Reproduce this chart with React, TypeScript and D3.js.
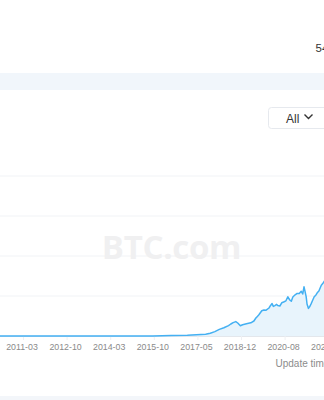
import React from "react";
import * as d3 from "d3";

// Tick labels on the category-like date axis (evenly spaced)
const tickLabels = ["2011-03", "2012-10", "2014-03", "2015-10", "2017-05", "2018-12", "2020-08", "2022-03"];

// Difficulty series (T)
const dates = [
  "2009-01-09", "2010-07-15", "2011-03-15", "2012-10-15", "2014-03-15", "2015-10-15", "2016-06-15",
  "2017-01-15", "2017-05-15", "2017-09-15", "2017-11-15", "2018-01-15", "2018-03-15", "2018-05-15",
  "2018-07-15", "2018-08-15", "2018-09-15", "2018-10-20", "2018-11-15", "2018-12-20", "2019-01-20",
  "2019-03-15", "2019-05-15", "2019-06-27", "2019-07-25", "2019-08-15", "2019-09-05", "2019-10-15",
  "2019-11-15", "2019-12-15", "2020-01-24", "2020-02-15", "2020-03-07", "2020-03-25", "2020-04-15",
  "2020-05-10", "2020-05-25", "2020-06-24", "2020-07-20", "2020-08-15", "2020-09-15", "2020-10-10",
  "2020-11-05", "2020-11-25", "2020-12-15", "2021-01-15", "2021-02-10", "2021-03-10", "2021-04-05",
  "2021-04-25", "2021-05-12", "2021-05-25", "2021-06-10", "2021-06-21", "2021-07-10", "2021-07-25",
  "2021-08-15", "2021-09-05", "2021-09-24", "2021-10-15", "2021-11-03", "2021-11-25", "2021-12-27",
  "2022-01-15", "2022-02-05", "2022-03-15", "2022-04-15",
];
const difficultyT = [
  0, 0, 0, 0.003, 0.005, 0.06, 0.2,
  0.34, 0.6, 0.9, 1.4, 2.2, 3.3, 4.1,
  5.2, 6.0, 6.7, 7.2, 6.5, 5.1, 5.6,
  6.1, 6.6, 7.5, 9.0, 9.8, 10.6, 12.6,
  13.0, 12.9, 14.0, 15.3, 16.2, 14.8, 15.2,
  15.8, 15.2, 15.0, 16.6, 17.0, 17.6, 19.6,
  18.0, 17.4, 19.5, 20.6, 21.3, 21.3, 22.4,
  21.0, 24.6, 22.4, 19.6, 16.0, 13.8, 14.6,
  16.2, 18.0, 19.6, 20.4, 21.6, 22.5, 25.4,
  26.2, 27.4, 28.2, 29.4,
];

const yTicks = [0, 20, 40, 60, 80];

const W = 324;
const H = 400;
const FONT = "'Liberation Sans', Arial, Helvetica, sans-serif";

export default function App() {
  const parse = d3.timeParse("%Y-%m");
  const parseDay = d3.timeParse("%Y-%m-%d");
  const tickDates = tickLabels.map((t) => {
    const d = parse(t) as Date;
    return new Date(d.getFullYear(), d.getMonth(), 15);
  });

  const xStart = 22;
  const xStep = 43.6;
  const x = d3
    .scaleTime()
    .domain(tickDates)
    .range(tickDates.map((_, i) => xStart + i * xStep));

  const y = d3.scaleLinear().domain([0, 80]).range([336, 176]);

  const data = dates.map((d, i) => ({ date: parseDay(d) as Date, v: difficultyT[i] }));

  const line = d3
    .line<{ date: Date; v: number }>()
    .x((d) => x(d.date))
    .y((d) => y(d.v));
  const area = d3
    .area<{ date: Date; v: number }>()
    .x((d) => x(d.date))
    .y0(y(0))
    .y1((d) => y(d.v));

  return (
    <div
      style={{
        position: "absolute",
        left: 0,
        top: 0,
        width: W,
        height: H,
        overflow: "hidden",
        background: "#fff",
      }}
    >
      <svg width={W} height={H} style={{ display: "block", fontFamily: FONT }}>
        <rect x={0} y={0} width={W} height={H} fill="#fff" />
        {/* header value (cut off) */}
        <text x={315.5} y={52} fontSize={11.5} fill="#333">
          54
        </text>
        {/* light band */}
        <rect x={0} y={73} width={W} height={17} fill="#f1f6fb" />
        {/* All dropdown */}
        <rect x={268.5} y={107.5} width={80} height={21} rx={3} fill="#fff" stroke="#e6e9ee" />
        <text x={286} y={122.5} fontSize={12} fill="#333">
          All
        </text>
        <path d="M304.5,114.5 L308.5,118.5 L312.5,114.5" fill="none" stroke="#333" strokeWidth={1.4} />

        {/* gridlines */}
        {yTicks.slice(1).map((t) => (
          <line key={t} x1={0} x2={W} y1={y(t)} y2={y(t)} stroke="#f1f3f6" strokeWidth={1} />
        ))}
        {/* watermark */}
        <text
          x={171.5}
          y={258.5}
          textAnchor="middle"
          fontSize={33}
          fontWeight={700}
          fill="#f0f0f1"
          fontFamily="'Open Sans', 'Liberation Sans', Arial, sans-serif"
          letterSpacing={-0.3}
        >
          BTC.com
        </text>
        {/* axis */}
        <line x1={0} x2={W} y1={y(0) + 0.5} y2={y(0) + 0.5} stroke="#e3e7ec" />
        {tickDates.map((d, i) => (
          <line key={i} x1={x(d) + 1.5} x2={x(d) + 1.5} y1={y(0)} y2={y(0) + 4} stroke="#eef0f3" />
        ))}
        {/* series */}
        <path d={area(data) || ""} fill="#e8f4fc" />
        <path d={line(data) || ""} fill="none" stroke="#44b0f2" strokeWidth={1.5} strokeLinejoin="round" />
        {/* tick labels */}
        {tickDates.map((d, i) => (
          <text key={i} x={x(d)} y={350} textAnchor="middle" fontSize={8.8} fill="#8a8a8a">
            {tickLabels[i]}
          </text>
        ))}
        {/* update time */}
        <text x={275.5} y={367} fontSize={10} fill="#8c8c8c">
          Update time
        </text>
        {/* bottom band */}
        <rect x={0} y={396} width={W} height={4} fill="#f3f6fa" />
      </svg>
    </div>
  );
}
